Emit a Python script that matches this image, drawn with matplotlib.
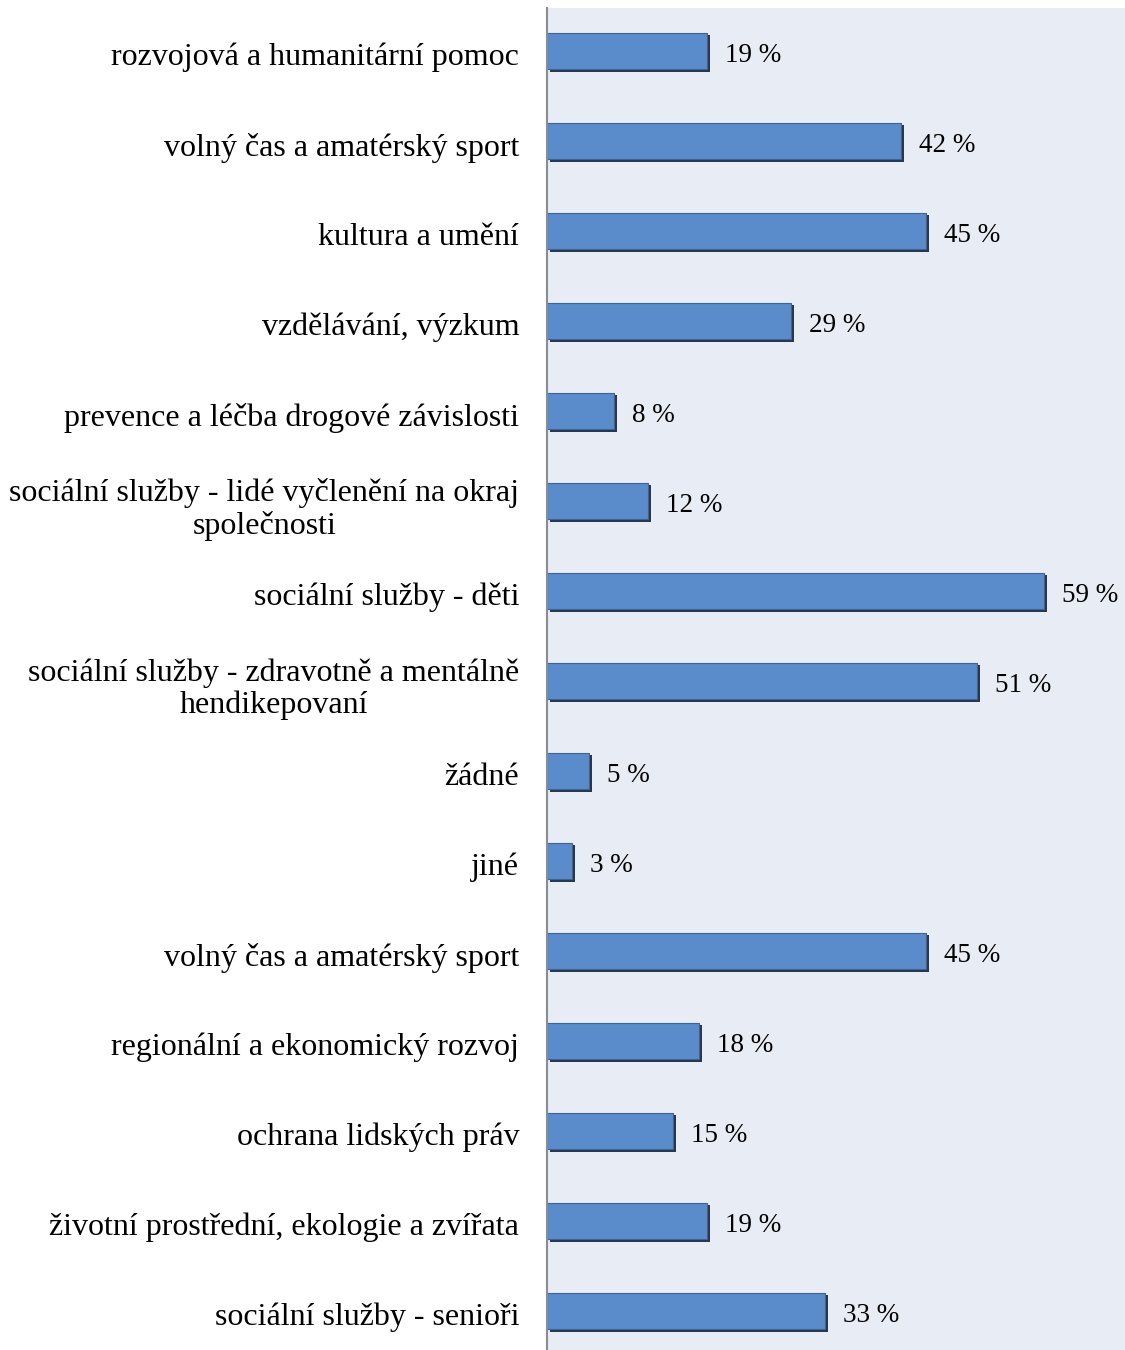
import matplotlib
matplotlib.use("Agg")
from matplotlib import pyplot as plt
from matplotlib import patheffects as pe
from matplotlib import transforms

# Oblasti a podíly (shora dolů)
categories = [
    "rozvojová a humanitární pomoc",
    "volný čas a amatérský sport",
    "kultura a umění",
    "vzdělávání, výzkum",
    "prevence a léčba drogové závislosti",
    "sociální služby - lidé vyčlenění na okraj\nspolečnosti",
    "sociální služby - děti",
    "sociální služby - zdravotně a mentálně\nhendikepovaní",
    "žádné",
    "jiné",
    "volný čas a amatérský sport",
    "regionální a ekonomický rozvoj",
    "ochrana lidských práv",
    "životní prostřední, ekologie a zvířata",
    "sociální služby - senioři",
]
values = [19, 42, 45, 29, 8, 12, 59, 51, 5, 3, 45, 18, 15, 19, 33]

fig = plt.figure(figsize=(11.25, 13.5), dpi=100)
ax = fig.add_axes([547 / 1125, 0, 1 - 547 / 1125, 1342 / 1350])
ax.set_facecolor("#e8ecf4")

pos = list(range(len(categories)))
bars = ax.barh(pos, values, height=0.41, color="#5a8bca",
               edgecolor="#3c6496", linewidth=0.8, zorder=3)
for b in bars:
    b.set_path_effects([
        pe.SimplePatchShadow(offset=(2.2, -1.6), shadow_rgbFace="#1b2d47", alpha=0.95),
        pe.Normal(),
    ])

ax.set_xlim(0, 68.6)
ax.set_ylim(14.433, -0.478)

ax.set_yticks(pos)
ax.set_yticklabels(categories, family="Liberation Serif", fontsize=23,
                   multialignment="center", linespacing=1.15)
ax.tick_params(axis="y", length=0, pad=20)
ax.set_xticks([])

# posun popisků kategorií o pár pixelů dolů
shift = transforms.ScaledTranslation(0, -3 / 100, fig.dpi_scale_trans)
for lbl in ax.get_yticklabels():
    lbl.set_transform(lbl.get_transform() + shift)

for s in ["top", "right", "bottom"]:
    ax.spines[s].set_visible(False)
ax.spines["left"].set_color("#8c8c8c")
ax.spines["left"].set_linewidth(1.5)
ax.spines["left"].set_zorder(4)

# Popisky hodnot za koncem pruhu
for y, v in zip(pos, values):
    ax.annotate(f"{v} %", xy=(v, y), xytext=(13, -3), textcoords="offset points",
                ha="left", va="center", family="Liberation Serif", fontsize=19.5)

fig.savefig("out.png", dpi=100)
